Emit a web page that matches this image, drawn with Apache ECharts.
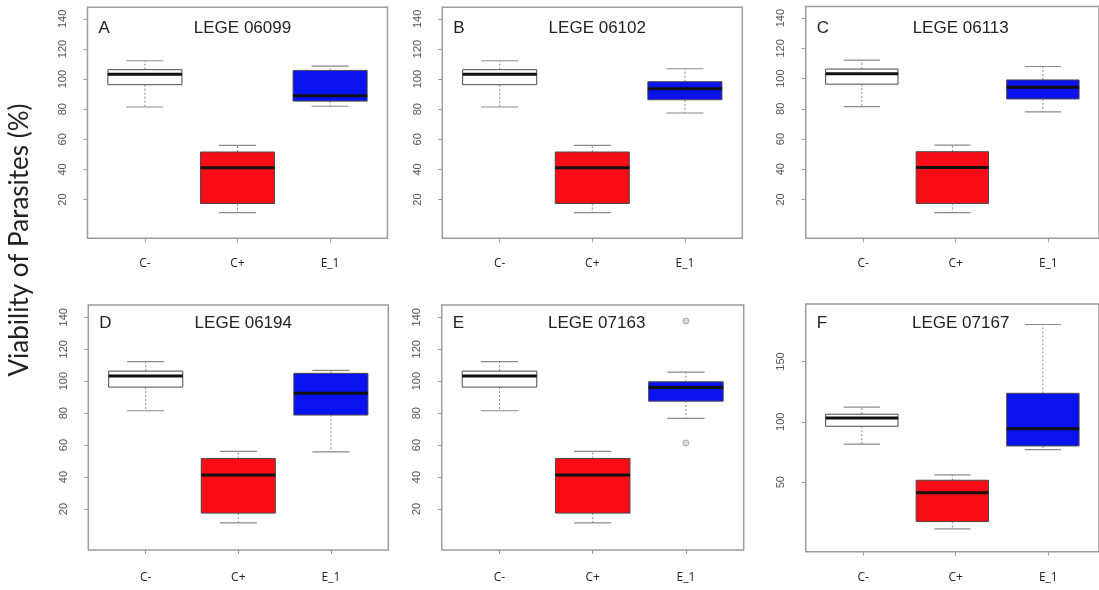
<!DOCTYPE html>
<html>
<head>
<meta charset="utf-8">
<script src="https://cdn.jsdelivr.net/npm/echarts@6/dist/echarts.min.js"></script>
<style>
  html, body { margin: 0; padding: 0; background: #ffffff; }
  #chart { width: 1099px; height: 590px; }
</style>
</head>
<body>
<div id="chart"></div>
<script>
// Treatment groups on every panel
const groups = ['C-', 'C+', 'E_1'];
const panelLetters = ['A', 'B', 'C', 'D', 'E', 'F'];
const strainNames = ['LEGE 06099', 'LEGE 06102', 'LEGE 06113', 'LEGE 06194', 'LEGE 07163', 'LEGE 07167'];

// Five-number summaries: [min, Q1, median, Q3, max] (% viable parasites)
const negativeControl = [81.5, 96.3, 103.2, 106.3, 112.2];
const positiveControl = [11.3, 17.4, 41.2, 51.6, 56.0];
const extract06099 = [82.0, 85.4, 89.0, 105.8, 108.7];
const extract06102 = [77.5, 86.3, 93.6, 98.3, 106.9];
const extract06113 = [77.9, 86.5, 94.3, 99.1, 108.0];
const extract06194 = [55.8, 78.8, 92.4, 104.9, 106.8];
const extract07163 = [76.7, 87.5, 96.0, 99.6, 105.7];
const extract07167 = [77.0, 80.0, 94.2, 123.6, 180.6];
const outliers07163 = [137.7, 61.3];

// Y-axis tick values
const ticksPercent = [20, 40, 60, 80, 100, 120, 140];
const ticks07167 = [50, 100, 150];

const extracts = [extract06099, extract06102, extract06113, extract06194, extract07163, extract07167];
const extractOutliers = [[], [], [], [], outliers07163, []];
const panelTicks = [ticksPercent, ticksPercent, ticksPercent, ticksPercent, ticksPercent, ticks07167];
const panelRanges = [[-5.7, 147.7], [-5.7, 147.7], [-5.7, 147.7], [-5.7, 147.7], [-5.7, 147.7], [-7.6, 197.6]];

// Panel frames (pixels) and label offsets
const frames = [
  { left: 87.5,  top: 7.3, width: 300, height: 231,   textY: 28,  xMargin: 19 },
  { left: 442.3, top: 7.3, width: 300, height: 231,   textY: 28,  xMargin: 19 },
  { left: 805.7, top: 6.5, width: 300, height: 231.8, textY: 28,  xMargin: 19 },
  { left: 88.3,  top: 305, width: 300, height: 245,   textY: 323, xMargin: 22 },
  { left: 441.7, top: 305, width: 302, height: 245,   textY: 323, xMargin: 22 },
  { left: 805.7, top: 304, width: 300, height: 247.7, textY: 323, xMargin: 20 }
];

// Box positions run from 1 to 3 with half a box of room and a 4% pad each side
const X_MIN = 0.38, X_MAX = 3.62;

const boxFills = ['#ffffff', '#f80c16', '#0a12f0'];
const frameColor = '#9c9c9c';
const whiskerColor = '#8a8a8a';

// R-style box: dashed whiskers, short solid caps, filled box, thick median
function renderBox(params, api) {
  const x = api.value(0);
  const lo = api.value(1), q1 = api.value(2), med = api.value(3), q3 = api.value(4), hi = api.value(5);
  const cx = api.coord([x, med])[0];
  const yOf = function (v) { return api.coord([x, v])[1]; };
  const boxW = api.size([0.8, 0])[0];
  const capHalf = boxW / 4;
  const whisker = { stroke: whiskerColor, lineWidth: 1, lineDash: [2, 2] };
  const cap = { stroke: whiskerColor, lineWidth: 1.2 };
  return {
    type: 'group',
    children: [
      { type: 'line', shape: { x1: cx, y1: yOf(q3), x2: cx, y2: yOf(hi) }, style: whisker },
      { type: 'line', shape: { x1: cx, y1: yOf(q1), x2: cx, y2: yOf(lo) }, style: whisker },
      { type: 'line', shape: { x1: cx - capHalf, y1: yOf(hi), x2: cx + capHalf, y2: yOf(hi) }, style: cap },
      { type: 'line', shape: { x1: cx - capHalf, y1: yOf(lo), x2: cx + capHalf, y2: yOf(lo) }, style: cap },
      { type: 'rect', shape: { x: cx - boxW / 2, y: yOf(q3), width: boxW, height: yOf(q1) - yOf(q3) },
        style: { fill: boxFills[params.dataIndex], stroke: '#4a4a4a', lineWidth: 1 } },
      { type: 'line', shape: { x1: cx - boxW / 2, y1: yOf(med), x2: cx + boxW / 2, y2: yOf(med) },
        style: { stroke: '#111111', lineWidth: 3 } }
    ]
  };
}

const grid = [], xAxis = [], yAxis = [], series = [], graphic = [];
const nPanels = frames.length;

frames.forEach(function (f, i) {
  // Plot region with frame, value axes
  grid.push({
    left: f.left, top: f.top, width: f.width, height: f.height,
    show: true, borderColor: frameColor, borderWidth: 1.5, backgroundColor: 'transparent'
  });
  xAxis.push({
    gridIndex: i, type: 'value', min: X_MIN, max: X_MAX,
    axisLine: { show: false, onZero: false },
    splitLine: { show: false },
    axisTick: { show: false },
    axisLabel: { show: false }
  });
  yAxis.push({
    gridIndex: i, type: 'value', position: 'left', min: panelRanges[i][0], max: panelRanges[i][1],
    axisLine: { show: false, onZero: false },
    splitLine: { show: false },
    axisTick: { show: true, inside: false, length: 4, customValues: panelTicks[i], lineStyle: { color: frameColor } },
    axisLabel: {
      customValues: panelTicks[i], rotate: 90, margin: 19, fontSize: 11, color: '#555',
      fontFamily: 'Liberation Sans'
    }
  });

  const rows = [negativeControl, positiveControl, extracts[i]].map(function (s, k) {
    return [k + 1].concat(s);
  });
  series.push({
    type: 'custom', xAxisIndex: i, yAxisIndex: i,
    renderItem: renderBox,
    encode: { x: 0, y: [1, 2, 3, 4, 5] },
    data: rows,
    silent: true
  });
  if (extractOutliers[i].length) {
    series.push({
      type: 'scatter', xAxisIndex: i, yAxisIndex: i,
      symbol: 'circle', symbolSize: 6,
      itemStyle: { color: '#cfcfcf', borderColor: '#9a9a9a', borderWidth: 1 },
      data: extractOutliers[i].map(function (v) { return [3, v]; }),
      silent: true
    });
  }

  graphic.push({
    type: 'text', x: f.left + 11, y: f.textY,
    style: { text: panelLetters[i], fill: '#222', font: '17px "Liberation Sans", Arial, sans-serif',
             textAlign: 'left', textVerticalAlign: 'middle' }
  });
  graphic.push({
    type: 'text', x: f.left + 155, y: f.textY,
    style: { text: strainNames[i], fill: '#222', font: '17px "Liberation Sans", Arial, sans-serif',
             textAlign: 'center', textVerticalAlign: 'middle' }
  });
});

// Group axis: a category band spanning positions 0.5..3.5 inside each frame
frames.forEach(function (f, i) {
  const unit = f.width / (X_MAX - X_MIN);
  const g = nPanels + i;
  grid.push({
    left: f.left + (0.5 - X_MIN) * unit, top: f.top, width: 3 * unit, height: f.height, show: false
  });
  xAxis.push({
    gridIndex: g, type: 'category', data: groups, boundaryGap: true, position: 'bottom',
    axisLine: { show: false, onZero: false },
    splitLine: { show: false },
    axisTick: { show: true, inside: false, alignWithLabel: true, length: 4, lineStyle: { color: frameColor } },
    axisLabel: { margin: f.xMargin, fontSize: 12, color: '#222', fontFamily: 'Open Sans' }
  });
  yAxis.push({ gridIndex: g, type: 'value', min: 0, max: 1, show: false });
});

graphic.push({
  type: 'text', x: 20, y: 240, rotation: Math.PI / 2,
  style: { text: 'Viability of Parasites (%)', fill: '#222', font: '26px Lato, sans-serif',
           textAlign: 'center', textVerticalAlign: 'middle' }
});

const chart = echarts.init(document.getElementById('chart'), null, { renderer: 'canvas' });
chart.setOption({
  animation: false,
  backgroundColor: '#ffffff',
  grid: grid,
  xAxis: xAxis,
  yAxis: yAxis,
  series: series,
  graphic: graphic
});
</script>
</body>
</html>
